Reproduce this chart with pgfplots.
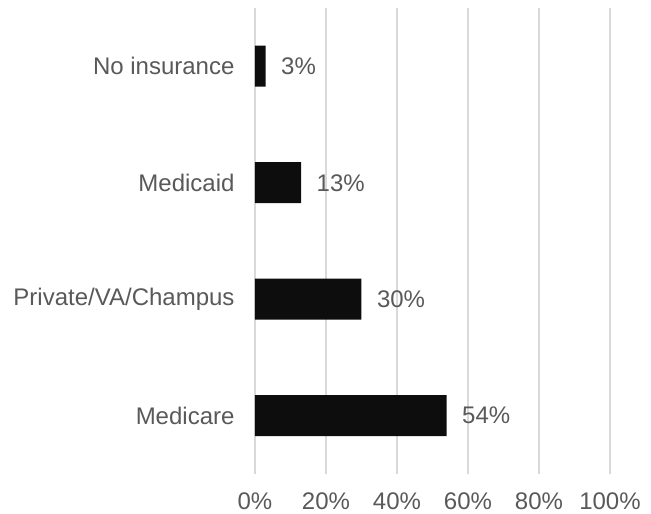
\documentclass[border=0pt]{standalone}
\usepackage{fontspec}
\setmainfont{Liberation Sans}
\usepackage{pgfplots}
\pgfplotsset{compat=1.18}
\definecolor{txt}{HTML}{595959}
\definecolor{barc}{HTML}{0D0D0D}
\definecolor{gridc}{HTML}{D9D9D9}
\begin{document}
\begin{tikzpicture}
\begin{axis}[
  name=ax,
  anchor=south west, at={(0,0)},
  scale only axis,
  width=355pt, height=466pt,
  xbar, bar width=41pt,
  xmin=0, xmax=100,
  ymin=-0.5, ymax=3.5,
  xtick={0,20,40,60,80,100},
  xticklabels={0\%,20\%,40\%,60\%,80\%,100\%},
  ytick={0,1,2,3},
  yticklabels={Medicare,Private/VA/Champus,Medicaid,No insurance},
  major tick length=0pt,
  axis line style={draw=none},
  xmajorgrids,
  grid style={gridc, line width=1.5pt},
  tick label style={font=\fontsize{24}{28}\selectfont, text=txt},
  xticklabel style={anchor=base, yshift=-36pt},
  yticklabel style={xshift=-17pt},
  nodes near coords={\pgfmathprintnumber[assume math mode=true]{\pgfplotspointmeta}\%},
  nodes near coords style={font=\fontsize{24}{28}\selectfont, text=txt, xshift=12pt},
  point meta=x,
]
\addplot[fill=barc, draw=none] coordinates {(54,0) (30,1) (13,2) (3,3)};
\end{axis}
\pgfresetboundingbox
\path (-255pt,-40pt) rectangle (396pt,474pt);
\end{tikzpicture}
\end{document}
